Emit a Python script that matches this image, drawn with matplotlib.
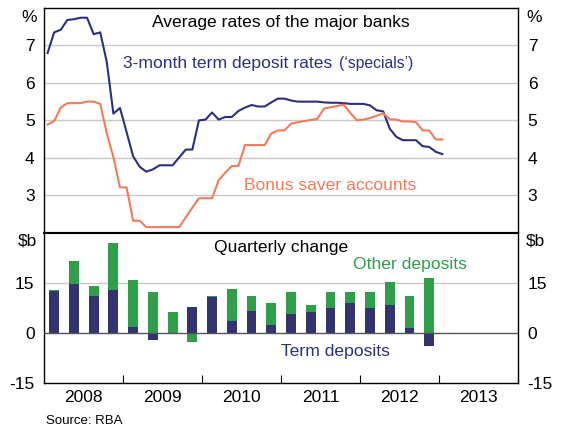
import matplotlib
matplotlib.use('Agg')
import matplotlib.pyplot as plt
import numpy as np
import pandas as pd

plt.rcParams['font.family'] = ['Liberation Sans', 'DejaVu Sans']

# monthly rates, Jan 2008 - Jan 2013 (%)
months = pd.date_range('2008-01-01', '2013-01-01', freq='MS')
term_rate = [6.80, 7.35, 7.42, 7.68, 7.70, 7.74, 7.74, 7.30, 7.35, 6.55, 5.18, 5.33,
             4.69, 4.04, 3.76, 3.63, 3.69, 3.80, 3.80, 3.80, 4.01, 4.22, 4.22, 5.00,
             5.02, 5.21, 5.02, 5.09, 5.09, 5.25, 5.34, 5.41, 5.37, 5.37, 5.48, 5.58,
             5.58, 5.53, 5.50, 5.50, 5.50, 5.50, 5.48, 5.47, 5.47, 5.46, 5.44, 5.44,
             5.44, 5.40, 5.27, 5.24, 4.78, 4.56, 4.47, 4.47, 4.47, 4.31, 4.29, 4.16,
             4.10]
bonus_rate = [4.89, 4.98, 5.34, 5.46, 5.46, 5.46, 5.50, 5.50, 5.44, 4.65, 4.02, 3.21,
              3.21, 2.32, 2.32, 2.15, 2.15, 2.15, 2.15, 2.15, 2.15, 2.41, 2.67, 2.92,
              2.92, 2.92, 3.40, 3.60, 3.78, 3.78, 4.34, 4.34, 4.34, 4.34, 4.65, 4.73,
              4.73, 4.91, 4.95, 4.98, 5.01, 5.04, 5.31, 5.35, 5.38, 5.42, 5.20, 5.00,
              5.02, 5.06, 5.12, 5.19, 5.03, 5.02, 4.97, 4.97, 4.95, 4.73, 4.73, 4.49,
              4.49]

# quarterly change, 2008Q1 - 2012Q4 ($b)
quarters = pd.period_range('2008Q1', '2012Q4', freq='Q')
term_dep = np.array([12.5, 14.6, 11.0, 12.8, 1.7, -2.2, 0.0, 7.7, 10.7, 3.5,
                     6.5, 2.3, 5.6, 6.2, 7.4, 8.9, 7.4, 8.3, 1.4, -4.0])
other_dep = np.array([0.3, 6.9, 3.0, 14.1, 14.1, 12.2, 6.2, -2.8, 0.3, 9.6,
                      4.5, 6.6, 6.6, 2.1, 4.8, 3.3, 4.8, 6.9, 9.6, 16.4])

years = [2008, 2009, 2010, 2011, 2012, 2013]

navy = '#2c2f7e'
navy_bar = '#33336f'
orange = '#f47a5c'
green = '#2e9e4b'
grid = '#c8c8c8'
fs = 12.6

mx = months.year + (months.month - 0.5) / 12
qx = quarters.year + (quarters.quarter - 0.5) / 4

fig = plt.figure(figsize=(5.63, 4.28), dpi=100)
ax1 = fig.add_axes([0.0787, 0.4563, 0.8414, 0.5250])
ax2 = fig.add_axes([0.0787, 0.1058, 0.8414, 0.3505])

# top panel
ax1.plot(mx, term_rate, color=navy, lw=1.5, zorder=3)
ax1.plot(mx, bonus_rate, color=orange, lw=1.5, zorder=3)
ax1.set_xlim(2008, 2014)
ax1.set_ylim(2, 8)
ax1.set_yticks([3, 4, 5, 6, 7])
for v in [3, 4, 5, 6, 7]:
    ax1.axhline(v, color=grid, lw=1, zorder=1)
ax1.set_xticks([])
ax1.tick_params(axis='y', length=0, pad=7, labelsize=12.5, labelleft=True, labelright=True)
ax1.text(0.5, 0.935, 'Average rates of the major banks', transform=ax1.transAxes,
         ha='center', va='center', fontsize=fs)
ax1.text(0.166, 0.755, '3-month term deposit rates', transform=ax1.transAxes,
         ha='left', va='center', fontsize=fs, color=navy)
ax1.text(0.622, 0.755, '(\u2018specials\u2019)', transform=ax1.transAxes,
         ha='left', va='center', fontsize=11.3, color=navy)
ax1.text(0.421, 0.212, 'Bonus saver accounts', transform=ax1.transAxes,
         ha='left', va='center', fontsize=fs, color=orange)

# bottom panel
bottoms = np.where(other_dep >= 0, np.maximum(term_dep, 0), np.minimum(term_dep, 0))
ax2.bar(qx, term_dep, width=0.125, color=navy_bar, zorder=2)
ax2.bar(qx, other_dep, width=0.125, bottom=bottoms, color=green, zorder=2)
ax2.axhline(15, color=grid, lw=1, zorder=1)
ax2.axhline(0, color='#555555', lw=1, zorder=3)
ax2.set_ylim(-15, 30)
ax2.set_yticks([-15, 0, 15])
ax2.set_yticklabels(['-15', '0', '15'])
ax2.tick_params(axis='y', length=0, pad=7, labelsize=12.5, labelleft=True, labelright=True)
ax2.set_xlim(2008, 2014)
ax2.set_xticks(years[1:] + [2014])
ax2.set_xticks([y + 0.5 for y in years], minor=True)
ax2.set_xticklabels([str(y) for y in years], minor=True)
ax2.tick_params(axis='x', which='major', direction='in', length=6, color='black',
                labelbottom=False)
ax2.tick_params(axis='x', which='minor', length=0, pad=5, labelsize=12.5)
ax2.text(0.5, 0.904, 'Quarterly change', transform=ax2.transAxes,
         ha='center', va='center', fontsize=fs)
ax2.text(0.652, 0.79, 'Other deposits', transform=ax2.transAxes,
         ha='left', va='center', fontsize=fs, color=green)
ax2.text(0.5, 0.207, 'Term deposits', transform=ax2.transAxes,
         ha='left', va='center', fontsize=fs, color=navy)

for ax in (ax1, ax2):
    for s in ax.spines.values():
        s.set_linewidth(1.0)
        s.set_color('black')
ax1.spines['bottom'].set_linewidth(1.5)
ax2.spines['top'].set_linewidth(1.5)

# unit labels
fig.text(0.0787 - 0.0125, 1 - 17 / 428, '%', ha='right', va='center', fontsize=12.5)
fig.text(0.920 + 0.0145, 1 - 17 / 428, '%', ha='left', va='center', fontsize=12.5)
fig.text(0.0787 - 0.0125, 1 - 241 / 428, '$b', ha='right', va='center', fontsize=12.5)
fig.text(0.920 + 0.0145, 1 - 241 / 428, '$b', ha='left', va='center', fontsize=12.5)

fig.text(46 / 563, 1 - 421 / 428, 'Source: RBA', ha='left', va='center', fontsize=9.5)

fig.savefig('out.png', dpi=100)
